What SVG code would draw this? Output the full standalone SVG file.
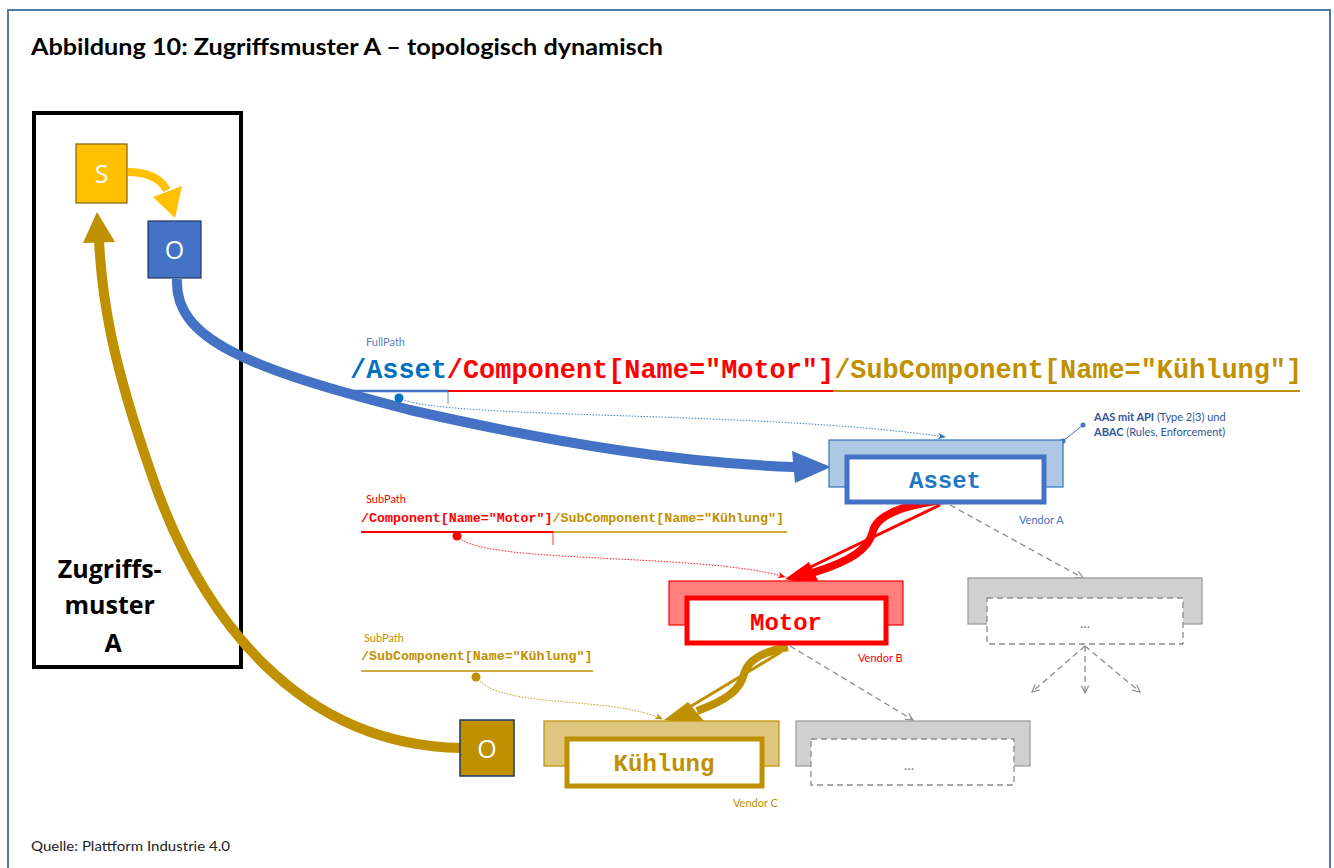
<svg xmlns="http://www.w3.org/2000/svg" width="1334" height="868" viewBox="0 0 1334 868">
  <defs>
    <style>
      .sans { font-family: Lato, "Open Sans", "Liberation Sans", sans-serif; }
      .label { font-family: "Open Sans", "Liberation Sans", sans-serif; }
      .mono { font-family: "Liberation Mono", "Courier New", monospace; font-weight: bold; }
      .small { font-size: 11px; }
      .dash { fill: none; stroke: #8c8c8c; stroke-width: 1.3; stroke-dasharray: 6 4; }
      .dot { fill: none; stroke-width: 0.9; stroke-dasharray: 1.5 1.5; }
    </style>
    <marker id="openGray" viewBox="0 0 10 10" refX="9" refY="5" markerWidth="9" markerHeight="9" orient="auto" markerUnits="userSpaceOnUse">
      <path d="M1,1 L9,5 L1,9" fill="none" stroke="#8c8c8c" stroke-width="1.3"/>
    </marker>
    <marker id="tipBlue" viewBox="0 0 10 10" refX="9" refY="5" markerWidth="8" markerHeight="8" orient="auto" markerUnits="userSpaceOnUse">
      <path d="M0,1 L10,5 L0,9 L3,5 Z" fill="#2e75b6"/>
    </marker>
    <marker id="tipRed" viewBox="0 0 10 10" refX="9" refY="5" markerWidth="8" markerHeight="8" orient="auto" markerUnits="userSpaceOnUse">
      <path d="M0,1 L10,5 L0,9 L3,5 Z" fill="#ff0000"/>
    </marker>
    <marker id="tipGold" viewBox="0 0 10 10" refX="9" refY="5" markerWidth="8" markerHeight="8" orient="auto" markerUnits="userSpaceOnUse">
      <path d="M0,1 L10,5 L0,9 L3,5 Z" fill="#bf9000"/>
    </marker>
  </defs>

  <rect width="1334" height="868" fill="#ffffff"/>
  <!-- frame -->
  <path d="M8,868 L8,10 L1330,10 L1330,868" fill="none" stroke="#4f7ba8" stroke-width="2"/>

  <text x="31" y="55" class="sans" font-size="22" font-weight="bold" fill="#000" textLength="632" lengthAdjust="spacingAndGlyphs">Abbildung 10: Zugriffsmuster A – topologisch dynamisch</text>

  <!-- access pattern box -->
  <g id="pattern-box">
    <rect x="34" y="113" width="207" height="554" fill="none" stroke="#000" stroke-width="4"/>
    <text class="label" font-size="25" font-weight="bold" text-anchor="middle" fill="#000">
      <tspan x="113" y="578">Zugriffs-</tspan>
      <tspan x="113" y="614">muster</tspan>
      <tspan x="113" y="652">A</tspan>
    </text>
  </g>

  <g id="connectors">
    <!-- S to O -->
    <path d="M128,172 C148,172 160,178 167,190" fill="none" stroke="#ffc000" stroke-width="8"/>
    <polygon points="175,218 153,197 182,186" fill="#ffc000"/>

    <!-- O to Asset -->
    <path d="M177,279 C174,338 245,368 410,410 C560,444 680,463 795,467" fill="none" stroke="#4472c4" stroke-width="10"/>
    <polygon points="831,467 792,451 795,483" fill="#4472c4"/>

    <!-- O (Kühlung) back to S -->
    <path d="M461,748 C300,745 200,620 150,470 C112,360 102,300 99,240" fill="none" stroke="#bf9000" stroke-width="10"/>
    <polygon points="97,212 83,243 115,242" fill="#bf9000"/>

    <!-- Asset to Motor -->
    <path d="M946,500 C905,504 877,515 873,531 C869,549 851,561 812,573" fill="none" stroke="#ff0000" stroke-width="8"/>
    <path d="M940,505 L798,573" fill="none" stroke="#ff0000" stroke-width="3"/>
    <polygon points="785,579 809,562 821,587" fill="#ff0000"/>

    <!-- Motor to Kühlung -->
    <path d="M788,647 C762,652 748,660 744,674 C740,690 727,700 697,711" fill="none" stroke="#bf9000" stroke-width="8"/>
    <path d="M781,652 L678,714" fill="none" stroke="#bf9000" stroke-width="3"/>
    <polygon points="664,720 688,702 709,727" fill="#bf9000"/>

    <!-- path references -->
    <path class="dot" d="M399,398 C440,420 760,410 945,437" stroke="#2e75b6" marker-end="url(#tipBlue)"/>
    <path class="dot" d="M457,536 C480,565 700,552 785,577" stroke="#ff0000" marker-end="url(#tipRed)"/>
    <path class="dot" d="M476,677 C500,710 610,695 662,719" stroke="#bf9000" marker-end="url(#tipGold)"/>

    <!-- further structure -->
    <path class="dash" d="M950,505 L1083,578" marker-end="url(#openGray)"/>
    <path class="dash" d="M790,646 L913,720" marker-end="url(#openGray)"/>
    <path class="dash" d="M1085,646 L1032,692" marker-end="url(#openGray)"/>
    <path class="dash" d="M1085,646 L1085,693" marker-end="url(#openGray)"/>
    <path class="dash" d="M1085,646 L1140,692" marker-end="url(#openGray)"/>

    <!-- annotation leader -->
    <line x1="1063" y1="441" x2="1083" y2="425" stroke="#4472c4" stroke-width="1"/>
    <circle cx="1063" cy="441" r="2.5" fill="#4472c4"/>
    <circle cx="1083" cy="425" r="2.5" fill="#4472c4"/>
  </g>

  <g id="node-s">
    <rect x="76" y="144" width="51" height="59" fill="#ffc000" stroke="#7f6000" stroke-width="1.2"/>
    <text x="101.5" y="183" class="label" font-size="25" fill="#fff" text-anchor="middle">S</text>
  </g>
  <g id="node-o">
    <rect x="148" y="221" width="53" height="57" fill="#4472c4" stroke="#1f3864" stroke-width="1.2"/>
    <text x="174.5" y="259" class="label" font-size="25" fill="#fff" text-anchor="middle">O</text>
  </g>
  <g id="node-o-kuehlung">
    <rect x="460" y="720" width="54" height="56" fill="#bf9000" stroke="#1f3864" stroke-width="1.5"/>
    <text x="487" y="758" class="label" font-size="25" fill="#fff" text-anchor="middle">O</text>
  </g>

  <!-- full path -->
  <g id="full-path">
    <text x="366" y="346" class="sans small" fill="#5b7fc0">FullPath</text>
    <text x="350" y="378" class="mono" font-size="26.9"><tspan fill="#0070c0">/Asset</tspan><tspan fill="#ff0000">/Component[Name="Motor"]</tspan><tspan fill="#bf9000">/SubComponent[Name="Kühlung"]</tspan></text>
    <line x1="350" y1="391" x2="448" y2="391" stroke="#4472c4" stroke-width="2.5"/>
    <line x1="448" y1="391" x2="833" y2="391" stroke="#ff0000" stroke-width="2"/>
    <line x1="833" y1="391" x2="1300" y2="391" stroke="#bf9000" stroke-width="2"/>
    <line x1="448" y1="391" x2="448" y2="404" stroke="#4472c4" stroke-width="0.8"/>
    <circle cx="399" cy="398" r="4.5" fill="#0070c0"/>
  </g>

  <g id="subpath-motor">
    <text x="366" y="503" class="sans small" fill="#ff0000">SubPath</text>
    <text x="361" y="522" class="mono" font-size="13.3"><tspan fill="#ff0000">/Component[Name="Motor"]</tspan><tspan fill="#bf9000">/SubComponent[Name="Kühlung"]</tspan></text>
    <line x1="361" y1="532" x2="553" y2="532" stroke="#ff0000" stroke-width="2"/>
    <line x1="553" y1="532" x2="787" y2="532" stroke="#bf9000" stroke-width="1.5"/>
    <line x1="553" y1="532" x2="553" y2="545" stroke="#ff0000" stroke-width="0.8"/>
    <circle cx="457" cy="536" r="4.5" fill="#ff0000"/>
  </g>

  <g id="subpath-kuehlung">
    <text x="364" y="642" class="sans small" fill="#bf9000">SubPath</text>
    <text x="361" y="660" class="mono" font-size="13.3" fill="#bf9000">/SubComponent[Name="Kühlung"]</text>
    <line x1="361" y1="671" x2="593" y2="671" stroke="#bf9000" stroke-width="1.5"/>
    <circle cx="476" cy="677" r="4.5" fill="#bf9000"/>
  </g>

  <g id="node-asset">
    <rect x="829" y="440" width="234" height="47" fill="#adc9e6" stroke="#2e75b6" stroke-width="1.2"/>
    <rect x="847" y="457" width="197" height="45" fill="#fff" stroke="#4472c4" stroke-width="5"/>
    <text x="945" y="488" class="mono" font-size="24" fill="#1f78c1" text-anchor="middle">Asset</text>
    <text x="1019" y="524" class="sans small" fill="#4472c4">Vendor A</text>
    <text x="1094" y="421" class="sans small" fill="#2f5597"><tspan font-weight="bold">AAS mit API</tspan> (Type 2|3) und</text>
    <text x="1094" y="436" class="sans small" fill="#2f5597"><tspan font-weight="bold">ABAC</tspan> (Rules, Enforcement)</text>
  </g>

  <g id="node-motor">
    <rect x="669" y="581" width="234" height="44" fill="#ff7f7f" stroke="#ff0000" stroke-width="1.2"/>
    <rect x="687" y="598" width="199" height="45" fill="#fff" stroke="#ff0000" stroke-width="5"/>
    <text x="786" y="630" class="mono" font-size="24" fill="#ff0000" text-anchor="middle">Motor</text>
    <text x="858" y="662" class="sans small" fill="#ff0000">Vendor B</text>
  </g>

  <g id="node-kuehlung">
    <rect x="544" y="721" width="235" height="45" fill="#dfc67f" stroke="#bf9000" stroke-width="1.2"/>
    <rect x="567" y="739" width="195" height="47" fill="#fff" stroke="#bf9000" stroke-width="5"/>
    <text x="664" y="771" class="mono" font-size="24" fill="#bf9000" text-anchor="middle">Kühlung</text>
    <text x="733" y="807" class="sans small" fill="#bf9000">Vendor C</text>
  </g>

  <g id="node-other-1">
    <rect x="968" y="578" width="234" height="46" fill="#d0d0d0" stroke="#999" stroke-width="1.2"/>
    <rect x="987" y="598" width="196" height="46" fill="#fff" stroke="#8c8c8c" stroke-width="1.3" stroke-dasharray="6 4"/>
    <text x="1085" y="628" class="sans" font-size="14" fill="#7f7f7f" text-anchor="middle">...</text>
  </g>

  <g id="node-other-2">
    <rect x="796" y="721" width="234" height="45" fill="#d0d0d0" stroke="#999" stroke-width="1.2"/>
    <rect x="811" y="739" width="203" height="46" fill="#fff" stroke="#8c8c8c" stroke-width="1.3" stroke-dasharray="6 4"/>
    <text x="909" y="770" class="sans" font-size="14" fill="#7f7f7f" text-anchor="middle">...</text>
  </g>

  <text x="31" y="851" class="sans" font-size="13" fill="#222" textLength="199" lengthAdjust="spacingAndGlyphs">Quelle: Plattform Industrie 4.0</text>
</svg>
